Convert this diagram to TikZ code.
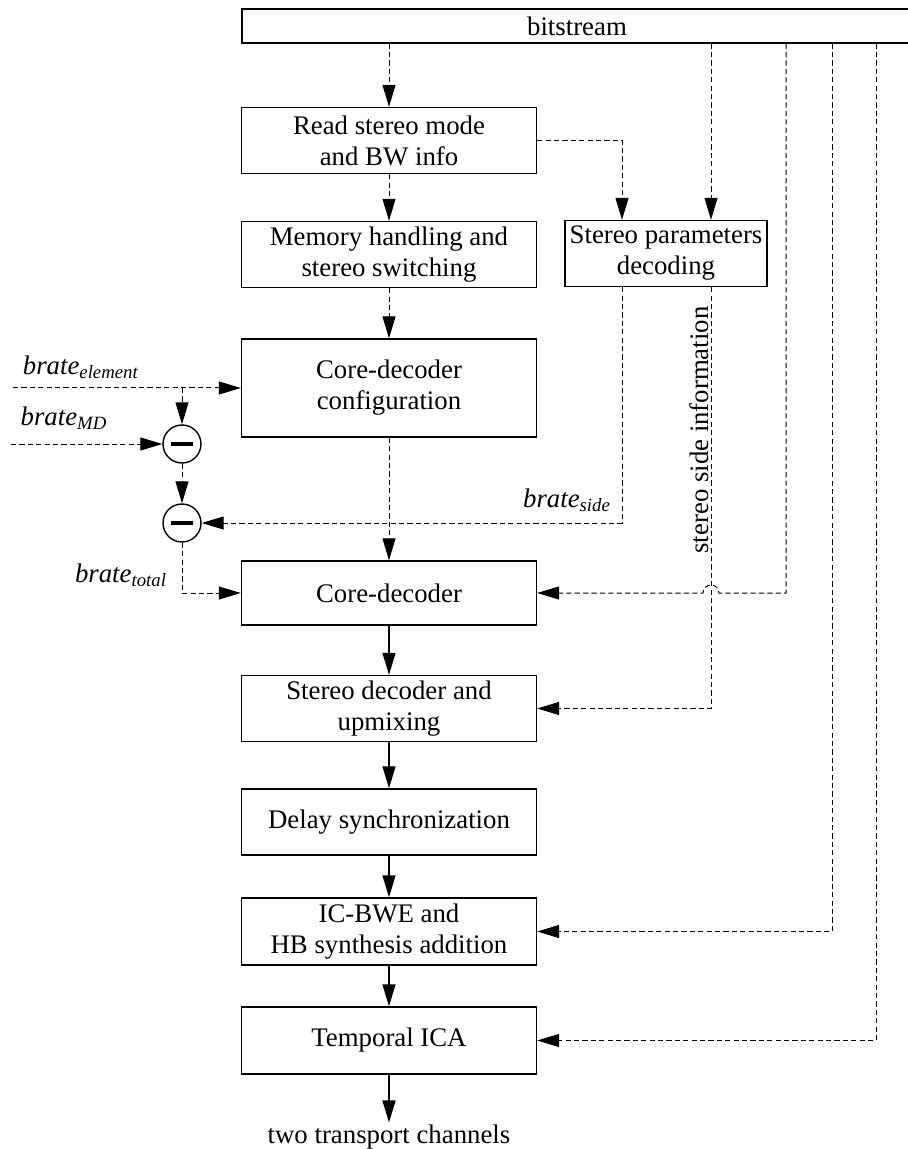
\documentclass[tikz,border=0pt]{standalone}
\usepackage{fontspec}
\setmainfont{Liberation Serif}
\usetikzlibrary{arrows.meta,positioning,calc}
\tikzset{blk/.style={rectangle,draw,line width=0.7pt,minimum width=147.5pt,minimum height=33pt,align=center,inner sep=2pt},minus/.style={circle,draw,line width=0.7pt,minimum size=19pt,inner sep=0pt},dline/.style={line width=0.5pt,dash pattern=on 2.6pt off 1.6pt,-{Triangle[length=11pt,width=6.5pt]}},sline/.style={line width=0.7pt,-{Triangle[length=11pt,width=6.5pt]}},lbl/.style={inner sep=1pt}}

\begin{document}
\begin{tikzpicture}[font=\fontsize{13.4}{15.5}\selectfont,x=0.5pt,y=-0.5pt]
\useasboundingbox (0,0) rectangle (908,1149);
\node[blk,minimum width=335pt,minimum height=17pt,inner sep=0pt] (bits) at (577,26) {bitstream};
\node[blk] (read) at (389,140.5) {Read stereo mode\\and BW info};
\node[blk] (mem) at (389,254.5) {Memory handling and\\stereo switching};
\node[blk,minimum width=101pt,inner xsep=1pt] (spar) at (666,253.5) {Stereo parameters\\decoding};
\node[blk,minimum height=49pt] (cconf) at (389,388) {Core-decoder\\configuration};
\node[blk,minimum height=32pt] (cdec) at (389,593) {Core-decoder};
\node[blk] (sdec) at (389,708.5) {Stereo decoder and\\upmixing};
\node[blk] (dsync) at (389,822) {Delay synchronization};
\node[blk,minimum height=33.5pt] (icbwe) at (389,931.5) {IC-BWE and\\HB synthesis addition};
\node[blk,minimum height=33.5pt] (tica) at (389,1040.5) {Temporal ICA};
\node[lbl] (outch) at (389,1137) {two transport channels};
\node[minus] (sub1) at (182,444) {\rule[-1pt]{11pt}{2pt}};
\node[minus] (sub2) at (182,523) {\rule[-1pt]{11pt}{2pt}};
% taps on the bitstream bus and free inputs
\coordinate (xside) at (622,0);\coordinate (xinfo) at (711,0);\coordinate (xcore) at (786,0);\coordinate (xbwe) at (832,0);\coordinate (xica) at (876,0);
\coordinate (inelem) at (13,388);\coordinate (inmd) at (11,444);
% rate labels
\node[lbl] (lelem) at (81,367) {\textit{brate}\textsubscript{\textit{element}}};
\node[lbl] (lmd) at (64,418) {\textit{brate}\textsubscript{\textit{MD}}};
\node[lbl] (ltotal) at (121,575) {\textit{brate}\textsubscript{\textit{total}}};
\node[lbl] (lside) at (567,500) {\textit{brate}\textsubscript{\textit{side}}};
\node[lbl,rotate=90,anchor=south] (lsinfo) at (711,430) {stereo side information};
% dashed control paths
\draw[dline] (bits.south -| read.north) -- (read.north);
\draw[dline] (read.south) -- (mem.north);
\draw[dline] (mem.south) -- (cconf.north);
\draw[dline] (read.east) -| (spar.north -| xside);
\draw[dline] (bits.south -| xinfo) -- (spar.north -| xinfo);
\draw[dline] (spar.south -| xside) |- (sub2.east);
\draw[dline] (spar.south -| xinfo) |- (sdec.east);
\draw[dline] (cconf.south) -- (cdec.north);
\draw[dline] (inelem) -- (cconf.west);
\draw[dline] (inelem -| sub1) -- (sub1.north);
\draw[dline] (inmd) -- (sub1.west);
\draw[dline] (sub1.south) -- (sub2.north);
\draw[dline] (sub2.south) |- (cdec.west);
\draw[dline] (bits.south -| xcore) |- ($(xinfo |- cdec.east)+(8,0)$) arc[start angle=0,end angle=180,radius=4pt] -- (cdec.east);
\draw[dline] (bits.south -| xbwe) |- (icbwe.east);
\draw[dline] (bits.south -| xica) |- (tica.east);
% signal path
\draw[sline] (cdec.south) -- (sdec.north);
\draw[sline] (sdec.south) -- (dsync.north);
\draw[sline] (dsync.south) -- (icbwe.north);
\draw[sline] (icbwe.south) -- (tica.north);
\draw[sline] (tica.south) -- (outch.north);
\end{tikzpicture}
\end{document}
